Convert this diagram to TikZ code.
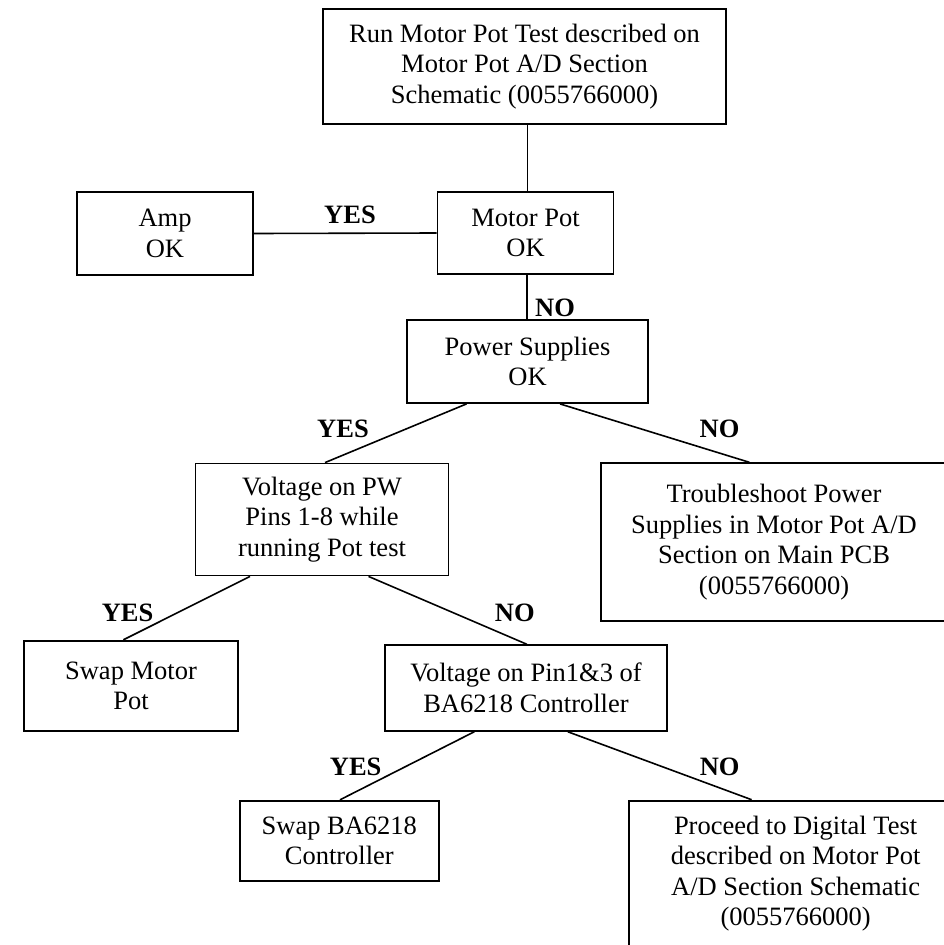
\documentclass[tikz,border=0pt]{standalone}
\usepackage{fontspec}
\setmainfont{Liberation Serif}
\begin{document}
\begin{tikzpicture}[x=1pt,y=-1pt,
  box/.style={draw,line width=1.8pt,inner sep=0pt,align=center,
    font=\fontsize{26.5}{30.5}\selectfont},
  lab/.style={inner sep=0pt,font=\fontsize{26.5}{30.5}\selectfont\bfseries},
  conn/.style={line width=1.6pt}]
\clip (0,0) rectangle (944,945);
\node[box,minimum width=403pt,minimum height=115pt] (top) at (524.5,66.5)
  {Run Motor Pot Test described on\\Motor Pot A/D Section\\Schematic (0055766000)};
\node[box,minimum width=176pt,minimum height=83pt] (amp) at (165,233.5) {Amp\\OK};
\node[box,minimum width=176pt,minimum height=82pt] (mp) at (525.5,233) {Motor Pot\\OK};
\node[box,minimum width=241pt,minimum height=83pt] (ps) at (527.5,361.5) {Power Supplies\\OK};
\node[box,minimum width=253pt,minimum height=112pt] (vpw) at (322,519.5)
  {Voltage on PW\\Pins 1-8 while\\running Pot test};
\node[box,minimum width=346pt,minimum height=157.5pt] (ts) at (774,542)
  {Troubleshoot Power\\Supplies in Motor Pot A/D\\Section on Main PCB\\(0055766000)};
\node[box,minimum width=214pt,minimum height=90pt] (swm) at (131,685.7) {Swap Motor\\Pot};
\node[box,minimum width=282.5pt,minimum height=85.7pt] (pin) at (526,688)
  {Voltage on Pin1\&3 of\\BA6218 Controller};
\node[box,minimum width=198.7pt,minimum height=80pt] (sba) at (339.3,840.7)
  {Swap BA6218\\Controller};
\node[box,minimum width=334pt,minimum height=146pt] (pr) at (795.6,873.6)
  {Proceed to Digital Test\\described on Motor Pot\\A/D Section Schematic\\(0055766000)};
\draw[conn] ([xshift=3pt]top.south) -- ([xshift=2pt]mp.north);
\draw[conn] (amp.east) -- (mp.west);
\draw[conn] ([xshift=1.5pt]mp.south) -- ([xshift=-0.5pt]ps.north);
\draw[conn] ([xshift=-61pt]ps.south) -- ([xshift=3pt]vpw.north);
\draw[conn] ([xshift=32.5pt]ps.south) -- ([xshift=-24.5pt]ts.north);
\draw[conn] ([xshift=-72pt]vpw.south) -- ([xshift=-7.6pt]swm.north);
\draw[conn] ([xshift=46.5pt]vpw.south) -- ([xshift=0.8pt]pin.north);
\draw[conn] ([xshift=-51.7pt]pin.south) -- ([xshift=0.7pt]sba.north);
\draw[conn] ([xshift=41.8pt]pin.south) -- ([xshift=-44pt]pr.north);
\node[lab] (l1) at (350,215) {YES};
\node[lab] (l2) at (555,308) {NO};
\node[lab] (l3) at (343,429) {YES};
\node[lab] (l4) at (719.5,429) {NO};
\node[lab] (l5) at (127.6,613) {YES};
\node[lab] (l6) at (514.8,613) {NO};
\node[lab] (l7) at (355.7,766.7) {YES};
\node[lab] (l8) at (719.7,766.7) {NO};
\end{tikzpicture}
\end{document}
